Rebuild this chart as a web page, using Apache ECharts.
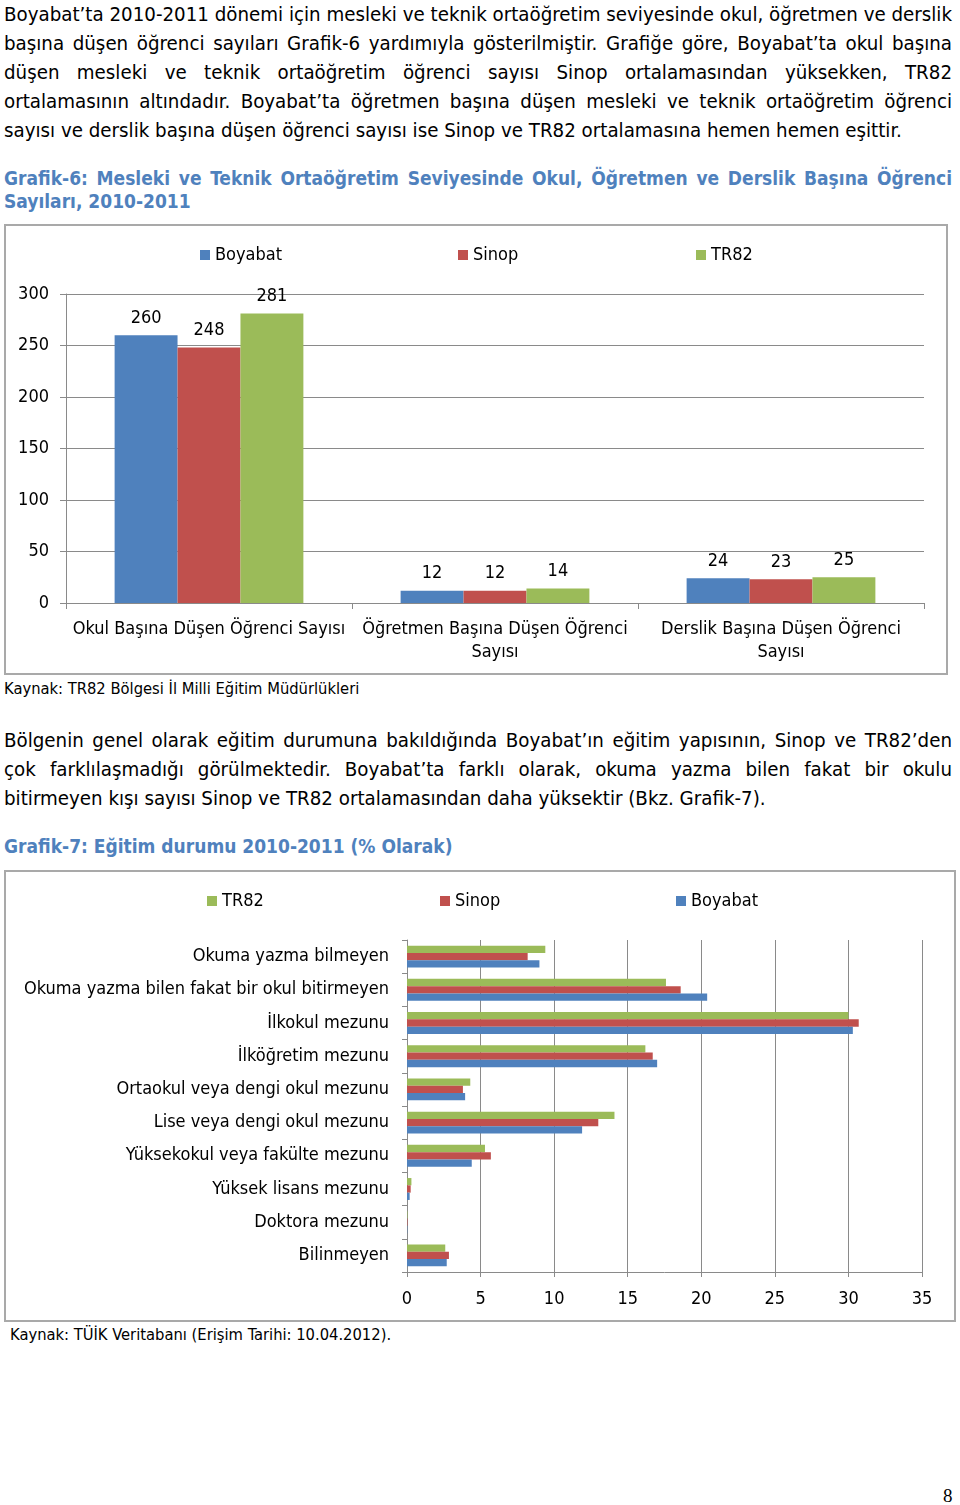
<!DOCTYPE html>
<html>
<head>
<meta charset="utf-8">
<script src="https://cdn.jsdelivr.net/npm/echarts@6/dist/echarts.min.js"></script>
<style>
  html, body { margin:0; padding:0; background:#fff; }
  body { width:960px; height:1505px; position:relative; overflow:hidden;
         font-family:"DejaVu Sans Condensed","DejaVu Sans",sans-serif; color:#000; }
  .para { position:absolute; left:4px; width:948px; font-size:20.3px; line-height:29px; }
  .para div { white-space:nowrap; }
  .para .j { text-align:justify; text-align-last:justify; white-space:normal; }
  .title { position:absolute; left:4px; width:948px; font-size:19px; line-height:23px;
           font-weight:bold; color:#4F81BD; }
  .title .j { text-align:justify; text-align-last:justify; }
  .src { position:absolute; font-size:16.4px; line-height:20px; }
  .box { position:absolute; border:2px solid #a9a9a9; box-sizing:border-box; }
  #pg { position:absolute; left:943px; top:1484px; font-family:"Liberation Serif","DejaVu Serif",serif; font-size:19px; line-height:24px; }
</style>
</head>
<body>
<div class="para" style="top:0px">
  <div class="j">Boyabat’ta 2010-2011 dönemi için mesleki ve teknik ortaöğretim seviyesinde okul, öğretmen ve derslik</div>
  <div class="j">başına düşen öğrenci sayıları Grafik-6 yardımıyla gösterilmiştir. Grafiğe göre, Boyabat’ta okul başına</div>
  <div class="j">düşen mesleki ve teknik ortaöğretim öğrenci sayısı Sinop ortalamasından yüksekken, TR82</div>
  <div class="j">ortalamasının altındadır. Boyabat’ta öğretmen başına düşen mesleki ve teknik ortaöğretim öğrenci</div>
  <div>sayısı ve derslik başına düşen öğrenci sayısı ise Sinop ve TR82 ortalamasına hemen hemen eşittir.</div>
</div>
<div class="title" style="top:167px">
  <div class="j">Grafik-6: Mesleki ve Teknik Ortaöğretim Seviyesinde Okul, Öğretmen ve Derslik Başına Öğrenci</div>
  <div>Sayıları, 2010-2011</div>
</div>
<div id="chart1" class="box" style="left:4px; top:224px; width:944px; height:451px;"></div>
<div class="src" style="left:4px; top:679px;">Kaynak: TR82 Bölgesi İl Milli Eğitim Müdürlükleri</div>
<div class="para" style="top:726px">
  <div class="j">Bölgenin genel olarak eğitim durumuna bakıldığında Boyabat’ın eğitim yapısının, Sinop ve TR82’den</div>
  <div class="j">çok farklılaşmadığı görülmektedir. Boyabat’ta farklı olarak, okuma yazma bilen fakat bir okulu</div>
  <div>bitirmeyen kışı sayısı Sinop ve TR82 ortalamasından daha yüksektir (Bkz. Grafik-7).</div>
</div>
<div class="title" style="top:835px">
  <div>Grafik-7: Eğitim durumu 2010-2011 (% Olarak)</div>
</div>
<div id="chart2" class="box" style="left:4px; top:870px; width:952px; height:452px;"></div>
<div class="src" style="left:10px; top:1325px;">Kaynak: TÜİK Veritabanı (Erişim Tarihi: 10.04.2012).</div>
<div id="pg">8</div>

<script>
// ---------- Grafik-6 data ----------
const cat1 = ['Okul Başına Düşen Öğrenci Sayısı', 'Öğretmen Başına Düşen Öğrenci\nSayısı', 'Derslik Başına Düşen Öğrenci\nSayısı'];
const boyabat1 = [260, 12, 24];
const sinop1 = [248, 12, 23];
const tr82_1 = [281, 14, 25];
const yTicks1 = [0, 50, 100, 150, 200, 250, 300];

// ---------- Grafik-7 data ----------
const cat2 = ['Okuma yazma bilmeyen', 'Okuma yazma bilen fakat bir okul bitirmeyen', 'İlkokul mezunu',
  'İlköğretim mezunu', 'Ortaokul veya dengi okul mezunu', 'Lise veya dengi okul mezunu',
  'Yüksekokul veya fakülte mezunu', 'Yüksek lisans mezunu', 'Doktora mezunu', 'Bilinmeyen'];
const tr82_2 = [9.4, 17.6, 30.0, 16.2, 4.3, 14.1, 5.3, 0.3, 0.03, 2.6];
const sinop2 = [8.2, 18.6, 30.7, 16.7, 3.8, 13.0, 5.7, 0.25, 0.03, 2.85];
const boyabat2 = [9.0, 20.4, 30.3, 17.0, 3.95, 11.9, 4.4, 0.18, 0.02, 2.7];
const xTicks2 = [0, 5, 10, 15, 20, 25, 30, 35];

const FONT = '"DejaVu Sans Condensed","DejaVu Sans",sans-serif';
const BLUE = '#4F81BD', RED = '#C0504D', GREEN = '#9BBB59';
const GRID = '#8a8a8a';

function legendAt(name, left) {
  return { data: [name], left: left, top: 20, padding: 0, itemWidth: 10, itemHeight: 10, itemGap: 5,
    icon: 'rect', textStyle: { fontFamily: FONT, fontSize: 18, color: '#000' }, selectedMode: false };
}

const c1 = echarts.init(document.getElementById('chart1'), null, { renderer: 'canvas' });
const lbl = { show: true, position: 'top', distance: 8, fontFamily: FONT, fontSize: 18, color: '#000' };
c1.setOption({
  animation: false,
  textStyle: { fontFamily: FONT },
  legend: [legendAt('Boyabat', 194), legendAt('Sinop', 452), legendAt('TR82', 690)],
  grid: { left: 60, right: 22, top: 68, bottom: 70, containLabel: false },
  xAxis: {
    type: 'category', data: cat1,
    axisLine: { lineStyle: { color: GRID, width: 1 } },
    axisTick: { show: true, length: 6, lineStyle: { color: GRID } },
    axisLabel: { interval: 0, margin: 15, fontFamily: FONT, fontSize: 18, lineHeight: 23, color: '#000' }
  },
  yAxis: {
    type: 'value', min: yTicks1[0], max: yTicks1[yTicks1.length - 1], interval: 50,
    axisLine: { show: true, lineStyle: { color: GRID } },
    axisTick: { show: true, length: 6, lineStyle: { color: GRID } },
    splitLine: { lineStyle: { color: GRID } },
    axisLabel: { margin: 17, fontFamily: FONT, fontSize: 18, color: '#000' }
  },
  series: [
    { name: 'Boyabat', type: 'bar', data: boyabat1, itemStyle: { color: BLUE }, barGap: '0%', barCategoryGap: '34%', label: lbl },
    { name: 'Sinop', type: 'bar', data: sinop1, itemStyle: { color: RED }, barGap: '0%', barCategoryGap: '34%', label: lbl },
    { name: 'TR82', type: 'bar', data: tr82_1, itemStyle: { color: GREEN }, barGap: '0%', barCategoryGap: '34%', label: lbl }
  ]
});

const c2 = echarts.init(document.getElementById('chart2'), null, { renderer: 'canvas' });
c2.setOption({
  animation: false,
  textStyle: { fontFamily: FONT },
  legend: [legendAt('TR82', 201), legendAt('Sinop', 434), legendAt('Boyabat', 670)],
  grid: { left: 401, right: 32, top: 68, bottom: 48, containLabel: false },
  xAxis: {
    type: 'value', min: xTicks2[0], max: xTicks2[xTicks2.length - 1], interval: 5,
    axisLine: { show: true, lineStyle: { color: GRID } },
    axisTick: { show: true, length: 5, lineStyle: { color: GRID } },
    splitLine: { lineStyle: { color: GRID } },
    axisLabel: { margin: 18, fontFamily: FONT, fontSize: 18, color: '#000' }
  },
  yAxis: {
    type: 'category', data: cat2, inverse: true,
    axisLine: { lineStyle: { color: GRID } },
    axisTick: { show: true, length: 5, lineStyle: { color: GRID } },
    axisLabel: { interval: 0, margin: 18, fontFamily: FONT, fontSize: 18, color: '#000' }
  },
  series: [
    { name: 'TR82', type: 'bar', data: tr82_2, itemStyle: { color: GREEN }, barGap: '0%', barCategoryGap: '34%' },
    { name: 'Sinop', type: 'bar', data: sinop2, itemStyle: { color: RED }, barGap: '0%', barCategoryGap: '34%' },
    { name: 'Boyabat', type: 'bar', data: boyabat2, itemStyle: { color: BLUE }, barGap: '0%', barCategoryGap: '34%' }
  ]
});
</script>
</body>
</html>
